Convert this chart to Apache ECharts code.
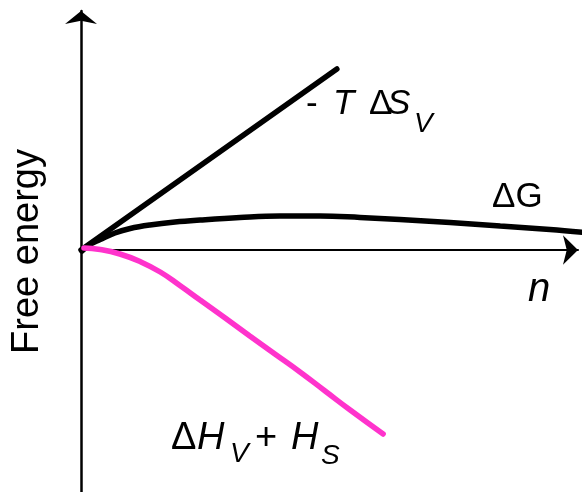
<!DOCTYPE html>
<html>
<head>
<meta charset="utf-8">
<script src="https://cdn.jsdelivr.net/npm/echarts@6/dist/echarts.min.js"></script>
<style>
  html, body { margin: 0; padding: 0; background: #fff; }
  #chart { width: 587px; height: 492px; }
</style>
</head>
<body>
<div id="chart"></div>
<script>
// Cluster size n (arbitrary units along the horizontal axis)
const entropyN = [0, 52.0];
// -T ΔS_V : straight contribution
const entropyG = [0, 18.1];

// ΔG : total free energy of formation
const totalN = [0.2, 1.8, 3.9, 6.9, 10.0, 14.0, 19.1, 24.2, 32.3, 40.4, 48.6, 56.7, 64.8, 75.0, 85.2, 95.3, 103.0];
const totalG = [-0.1, 0.55, 1.05, 1.7, 2.15, 2.5, 2.8, 3.0, 3.25, 3.4, 3.4, 3.25, 3.05, 2.75, 2.4, 2.05, 1.72];

// ΔH_V + H_S : enthalpy contribution
const enthalpyN = [0.6, 3.9, 7.9, 12.0, 16.1, 20.1, 24.2, 29.3, 34.3, 39.4, 44.5, 49.6, 54.7, 61.4];
const enthalpyG = [0.2, 0.05, -0.4, -1.15, -2.2, -3.55, -5.0, -6.8, -8.6, -10.4, -12.2, -14.1, -16.0, -18.4];

const zip = (xs, ys) => xs.map((x, i) => [x, ys[i]]);

const FONT = 'Liberation Sans, Arial, Helvetica, sans-serif';
const PINK = '#ff33cc';

// text piece helper: left edge x, baseline y
function piece(text, x, baseline, size, italic) {
  return {
    type: 'text',
    x: x,
    y: baseline - 0.31 * size,
    silent: true,
    style: {
      text: text,
      fill: '#000',
      font: (italic ? 'italic ' : '') + size + 'px ' + FONT,
      align: 'left',
      verticalAlign: 'middle'
    }
  };
}

const chart = echarts.init(document.getElementById('chart'), null, { renderer: 'canvas' });

chart.setOption({
  backgroundColor: '#fff',
  animation: false,
  grid: { left: 81, right: 9, top: 11, bottom: 0, containLabel: false, outerBoundsMode: 'none' },
  xAxis: {
    type: 'value',
    min: 0,
    max: 101.0,
    axisLine: {
      show: true,
      onZero: true,
      symbol: ['none', 'arrow'],
      symbolSize: [22, 15],
      lineStyle: { color: '#000', width: 2 }
    },
    axisTick: { show: false },
    axisLabel: { show: false },
    splitLine: { show: false }
  },
  yAxis: {
    type: 'value',
    min: -24.2,
    max: 23.9,
    name: 'Free energy',
    nameLocation: 'middle',
    nameRotate: 90,
    nameGap: 34,
    nameTextStyle: { fontFamily: FONT, fontSize: 38, color: '#000' },
    axisLine: {
      show: true,
      onZero: false,
      symbol: ['none', 'arrow'],
      symbolSize: [24, 13],
      lineStyle: { color: '#000', width: 2.5 }
    },
    axisTick: { show: false },
    axisLabel: { show: false },
    splitLine: { show: false }
  },
  series: [
    {
      name: '- T ΔS_V',
      type: 'line',
      data: zip(entropyN, entropyG),
      symbol: 'none',
      clip: false,
      lineStyle: { color: '#000', width: 5.5, cap: 'round' }
    },
    {
      name: 'ΔG',
      type: 'line',
      data: zip(totalN, totalG),
      symbol: 'none',
      smooth: 0.4,
      clip: false,
      lineStyle: { color: '#000', width: 5.5, cap: 'round' }
    },
    {
      name: 'ΔH_V + H_S',
      type: 'line',
      data: zip(enthalpyN, enthalpyG),
      symbol: 'none',
      smooth: 0.5,
      clip: false,
      lineStyle: { color: PINK, width: 5.5, cap: 'round' }
    }
  ],
  graphic: [
    // - T ΔS_V
    piece('-', 306, 115, 35, false),
    piece('T', 333, 115, 35, true),
    piece('Δ', 369, 115, 35, false),
    piece('S', 387, 115, 35, true),
    piece('V', 414, 133, 28, true),
    // ΔG
    piece('ΔG', 492, 208, 35, false),
    // n
    piece('n', 528, 302, 40, true),
    // ΔH_V + H_S
    piece('Δ', 171, 450, 38, false),
    piece('H', 197, 450, 38, true),
    piece('V', 230, 463, 28, true),
    piece('+', 255, 450, 38, false),
    piece('H', 291, 450, 38, true),
    piece('S', 321, 465, 28, true)
  ]
});
</script>
</body>
</html>
